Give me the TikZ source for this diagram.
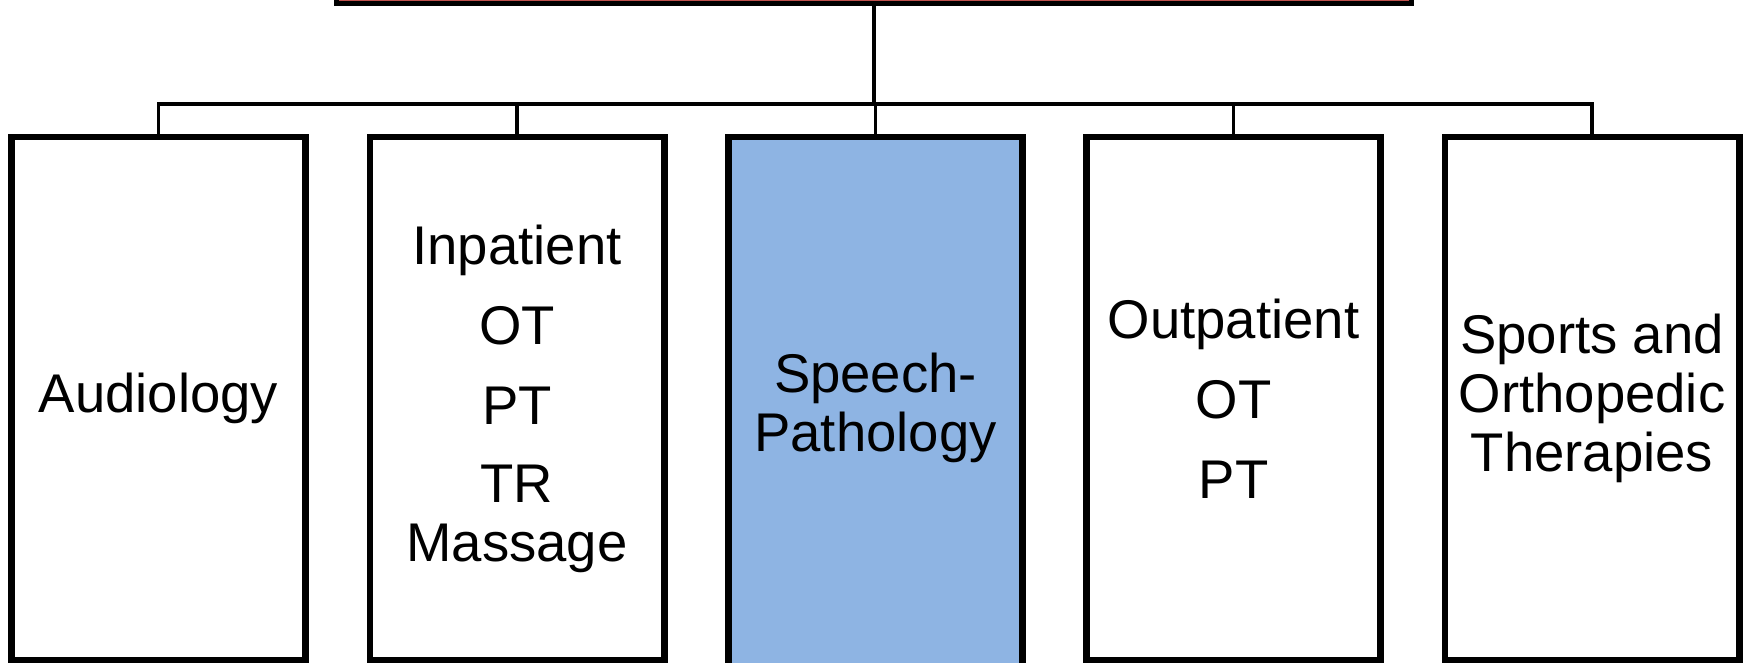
\documentclass[tikz,border=0pt]{standalone}
\usepackage{fontspec}
\setmainfont{Liberation Sans}
\definecolor{headred}{HTML}{C0504D}
\definecolor{unitblue}{HTML}{8EB4E3}
\begin{document}
\begin{tikzpicture}[x=1pt,y=-1pt,
  unit/.style={draw=black, line width=4.5pt, fill=white, anchor=north,
    minimum width=292pt, minimum height=521pt, inner sep=0pt,
    align=center, font=\fontsize{54.5}{59}\selectfont},
  head/.style={draw=black, line width=4.5pt, fill=headred, anchor=south,
    minimum width=1075pt, minimum height=80pt, inner sep=0pt},
  link/.style={draw=black, line width=3.5pt}]
  \useasboundingbox (0,0) rectangle (1747,663);
  \clip (0,0) rectangle (1747,663);

  % head of the department
  \node[head] (head) at (874,6) {};

  % distribution bar
  \coordinate (bus) at (874,104);

  % units
  \node[unit] (aud) at (158.5,136) {Audiology};
  \node[unit] (inp) at (517,136)
    {Inpatient\\[21pt]OT\\[21pt]PT\\[19pt]TR\\Massage};
  \node[unit, fill=unitblue, minimum height=540pt] (slp) at (875.5,136)
    {Speech-\\Pathology};
  \node[unit] (outp) at (1233.5,136) {Outpatient\\[21pt]OT\\[21pt]PT};
  \node[unit] (sport) at (1592,136) {Sports and\\Orthopedic\\Therapies};

  % connectors
  \draw[link] (head.south) -- (bus);
  \foreach \n in {aud,inp,slp,outp,sport}
    \draw[link] (\n.north) |- (bus);

  % redraw box borders over connector ends
  \foreach \n in {aud,inp,slp,outp,sport}
    \draw[line width=4.5pt] (\n.south west) rectangle (\n.north east);
\end{tikzpicture}
\end{document}
